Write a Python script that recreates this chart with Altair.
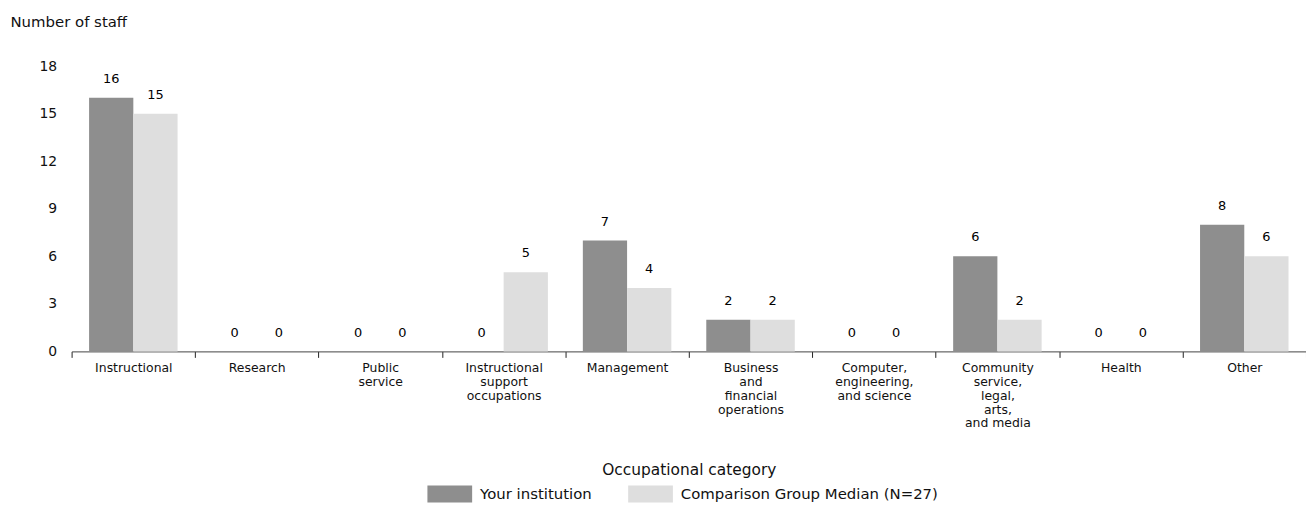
import altair as alt
import pandas as pd

categories = [
    "Instructional",
    "Research",
    "Public\nservice",
    "Instructional\nsupport\noccupations",
    "Management",
    "Business\nand\nfinancial\noperations",
    "Computer,\nengineering,\nand science",
    "Community\nservice,\nlegal,\narts,\nand media",
    "Health",
    "Other",
]
series = ["Your institution", "Comparison Group Median (N=27)"]
your_institution = [16, 0, 0, 0, 7, 2, 0, 6, 0, 8]
comparison_median = [15, 0, 0, 5, 4, 2, 0, 2, 0, 6]
y_ticks = [0, 3, 6, 9, 12, 15, 18]

rows = []
for c, a, b in zip(categories, your_institution, comparison_median):
    rows.append({"category": c, "series": series[0], "value": a})
    rows.append({"category": c, "series": series[1], "value": b})
df = pd.DataFrame(rows)

FONT = "DejaVu Sans"

x_enc = alt.X(
    "category:N",
    sort=categories,
    scale=alt.Scale(paddingInner=0, paddingOuter=0),
    axis=alt.Axis(
        title="Occupational category",
        labelAngle=0,
        labelExpr="split(datum.label, '\\n')",
        labelLineHeight=14,
        labelFontSize=12.5,
        labelColor="#111111",
        labelPadding=4,
        labelBaseline="top",
        tickBand="extent",
        tickSize=6,
        tickColor="#222222",
        domainColor="#444444",
        titleFontSize=15.5,
        titleFontWeight="normal",
        titleColor="#111111",
        titleY=119,
        titleBaseline="middle",
    ),
)
xoff = alt.XOffset(
    "series:N",
    sort=series,
    scale=alt.Scale(paddingInner=0, paddingOuter=0.395),
)
y_enc = alt.Y(
    "value:Q",
    scale=alt.Scale(domain=[0, 18], nice=False),
    axis=alt.Axis(
        values=y_ticks,
        grid=False,
        domain=False,
        ticks=False,
        labelPadding=15,
        labelFontSize=14,
        labelColor="#111111",
        title="Number of staff",
        titleAngle=0,
        titleX=-62,
        titleY=-45,
        titleAlign="left",
        titleBaseline="middle",
        titleFontSize=15,
        titleFontWeight="normal",
        titleColor="#111111",
    ),
)
color_enc = alt.Color(
    "series:N",
    sort=series,
    scale=alt.Scale(domain=series, range=["#8e8e8e", "#dedede"]),
    legend=alt.Legend(
        title=None,
        orient="none",
        direction="horizontal",
        legendX=372,
        legendY=422,
        symbolType="M-2.647,-1H2.647V1H-2.647Z",
        symbolSize=289,
        symbolStrokeWidth=0,
        symbolOpacity=1,
        labelFontSize=15,
        labelColor="#111111",
        labelOffset=22,
        labelLimit=400,
        columnPadding=36,
    ),
)

base = alt.Chart(df)
bars = base.mark_bar(stroke=None).encode(x=x_enc, xOffset=xoff, y=y_enc, color=color_enc)
labels = base.mark_text(
    dy=-19, fontSize=13, fill="#000000", baseline="middle", font=FONT
).encode(
    x=alt.X("category:N", sort=categories),
    xOffset=alt.XOffset("series:N", sort=series),
    y="value:Q",
    text="value:Q",
)

chart = (
    alt.layer(bars, labels)
    .properties(
        width=1242,
        height=287,
        autosize=alt.AutoSizeParams(type="none"),
        padding={"left": 64, "top": 57, "right": 0, "bottom": 151},
    )
    .configure(font=FONT)
    .configure_view(stroke=None)
)

chart.save("out.html", embed_options={"renderer": "svg", "actions": False})
